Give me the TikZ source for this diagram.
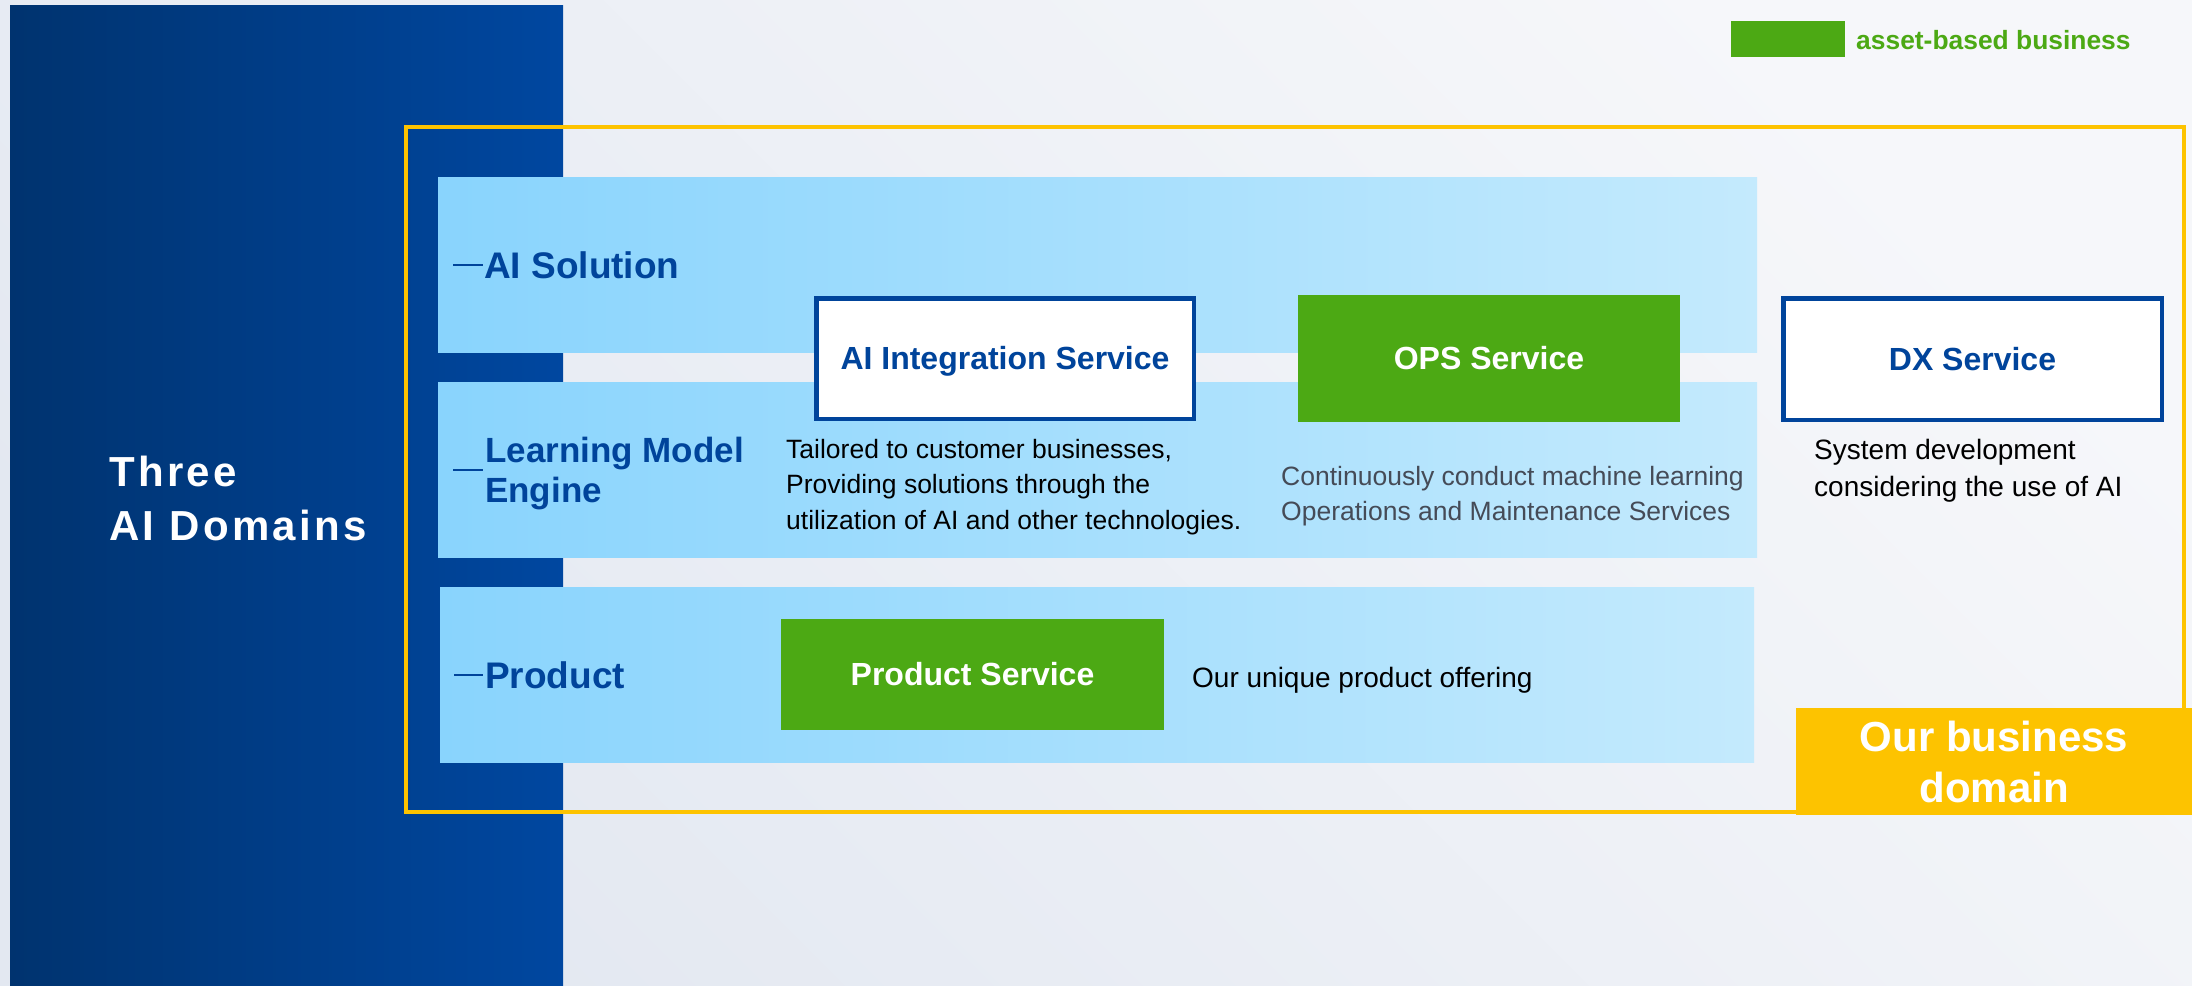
\documentclass[tikz,border=0pt]{standalone}
\usepackage{fontspec}
\setmainfont{Liberation Sans}
\newfontfamily\spacedfont[LetterSpace=8]{Liberation Sans}
\usetikzlibrary{calc}

\definecolor{bgA}{HTML}{E3E8F1}
\definecolor{bgB}{HTML}{F6F7FA}
\definecolor{panelL}{HTML}{00336F}
\definecolor{panelR}{HTML}{0047A0}
\definecolor{bandL}{HTML}{89D4FD}
\definecolor{bandR}{HTML}{C4EAFD}
\definecolor{ygold}{HTML}{FDC300}
\definecolor{ngreen}{HTML}{4CA914}
\definecolor{nblue}{HTML}{00449B}
\definecolor{grayt}{HTML}{454B57}

\newcommand\svcfont{\bfseries\fontsize{32}{38}\selectfont}
\newcommand\descfont{\fontsize{26.5}{35.5}\selectfont}

\begin{document}
\begin{tikzpicture}[x=1pt,y=-1pt,
  band/.style={left color=bandL, right color=bandR, draw=none},
  svcwhite/.style={draw=nblue, line width=4.5pt, fill=white, text=nblue,
    inner sep=0pt, font=\svcfont, text height=22.9pt, text depth=0pt},
  svcgreen/.style={fill=ngreen, text=white, inner sep=0pt, font=\svcfont,
    text height=22.9pt, text depth=0pt},
  rowlabel/.style={text=nblue, inner sep=0pt, align=left},
  desc/.style={inner sep=0pt, align=left, font=\descfont},
  tick/.style={draw=nblue, line width=2pt}
]
\useasboundingbox (0,0) rectangle (2192,985);

% page background and the dark side panel
\shade[left color=bgA, right color=bgB, shading angle=135] (0,0) rectangle (2192,985);
\shade[left color=panelL, right color=panelR] (10,5) rectangle (563,985);
\node[anchor=north west, inner sep=0pt, text=white, align=left,
  font=\spacedfont\bfseries\fontsize{42}{54}\selectfont] (three) at (109,456)
  {Three\\AI Domains};

% business domain frame
\draw[ygold, line width=4pt] (406,127) rectangle (2184,812);

% the three layers
\path[band] (438,177) rectangle (1757,352);
\path[band] (438,382) rectangle (1757,557);
\path[band] (440,587) rectangle (1754,762);

\node[rowlabel, anchor=base west, font=\bfseries\fontsize{37}{42}\selectfont]
  (lsol) at (484,278) {AI Solution};
\node[rowlabel, anchor=north west, font=\bfseries\fontsize{35}{40}\selectfont]
  (leng) at (485,437) {Learning Model\\Engine};
\node[rowlabel, anchor=base west, font=\bfseries\fontsize{37}{42}\selectfont]
  (lprod) at (485,688) {Product};
\draw[tick] ([xshift=-31pt]lsol.west) -- ([xshift=-1pt]lsol.west);
\draw[tick] ([xshift=-32pt,yshift=4pt]leng.west) -- ([xshift=-2pt,yshift=4pt]leng.west);
\draw[tick] ([xshift=-31pt]lprod.west) -- ([xshift=-2pt]lprod.west);

% services
\node[svcwhite, minimum width=377.5pt, minimum height=120.5pt] (aiint) at (1005,358.5) {AI Integration Service};
\node[svcgreen, minimum width=382pt, minimum height=127pt] (ops) at (1489,358.5) {OPS Service};
\node[svcwhite, minimum width=378.5pt, minimum height=121.5pt] (dx) at (1972.5,359) {DX Service};
\node[svcgreen, minimum width=383pt, minimum height=111pt] (prod) at (972.5,674.5) {Product Service};

% descriptions
\node[desc, anchor=north west] (dint) at (786,439)
  {Tailored to customer businesses,\\Providing solutions through the\\utilization of AI and other technologies.};
\node[desc, anchor=north west, text=grayt, font=\fontsize{26.5}{35}\selectfont] (dops) at (1281,466)
  {Continuously conduct machine learning\\Operations and Maintenance Services};
\node[desc, anchor=north west, font=\fontsize{28}{37}\selectfont] (ddx) at (1814,439.5)
  {System development\\considering the use of AI};
\node[desc, anchor=base west, font=\fontsize{28}{34}\selectfont] (dprod) at (1192,687) {Our unique product offering};

% legend
\node[fill=ngreen, minimum width=114pt, minimum height=36pt, inner sep=0pt] (legbox) at (1788,39) {};
\node[anchor=base west, text=ngreen, inner sep=0pt, font=\bfseries\fontsize{26.4}{30}\selectfont]
  (legtext) at (1856,49) {asset-based business};

% domain tag
\node[fill=ygold, text=white, align=center, inner sep=0pt, minimum width=396pt,
  minimum height=107pt, font=\bfseries\fontsize{42}{51}\selectfont]
  (domain) at (1994,761.5) {Our business\\domain};
\end{tikzpicture}
\end{document}
